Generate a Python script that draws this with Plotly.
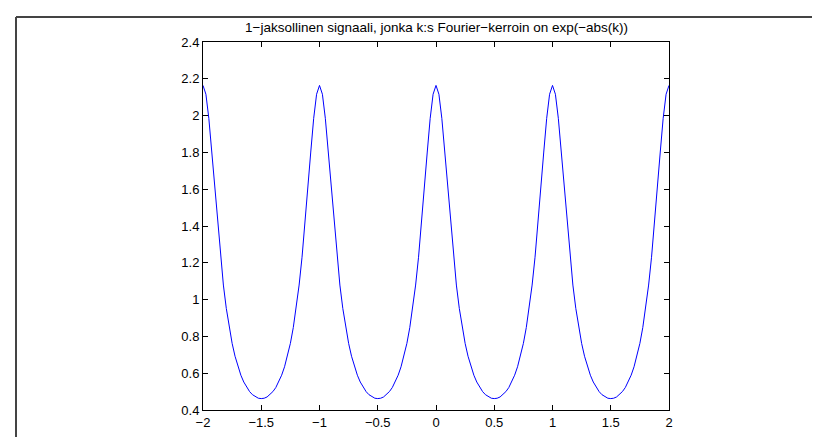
import plotly.graph_objects as go

# sample positions t
x_vals = [
    -2.0, -1.975, -1.95, -1.925, -1.9, -1.875, -1.85, -1.825, -1.8, -1.775,
    -1.75, -1.725, -1.7, -1.675, -1.65, -1.625, -1.6, -1.575, -1.55, -1.525,
    -1.5, -1.475, -1.45, -1.425, -1.4, -1.375, -1.35, -1.325, -1.3, -1.275,
    -1.25, -1.225, -1.2, -1.175, -1.15, -1.125, -1.1, -1.075, -1.05, -1.025,
    -1.0, -0.975, -0.95, -0.925, -0.9, -0.875, -0.85, -0.825, -0.8, -0.775,
    -0.75, -0.725, -0.7, -0.675, -0.65, -0.625, -0.6, -0.575, -0.55, -0.525,
    -0.5, -0.475, -0.45, -0.425, -0.4, -0.375, -0.35, -0.325, -0.3, -0.275,
    -0.25, -0.225, -0.2, -0.175, -0.15, -0.125, -0.1, -0.075, -0.05, -0.025,
    0.0, 0.025, 0.05, 0.075, 0.1, 0.125, 0.15, 0.175, 0.2, 0.225,
    0.25, 0.275, 0.3, 0.325, 0.35, 0.375, 0.4, 0.425, 0.45, 0.475,
    0.5, 0.525, 0.55, 0.575, 0.6, 0.625, 0.65, 0.675, 0.7, 0.725,
    0.75, 0.775, 0.8, 0.825, 0.85, 0.875, 0.9, 0.925, 0.95, 0.975,
    1.0, 1.025, 1.05, 1.075, 1.1, 1.125, 1.15, 1.175, 1.2, 1.225,
    1.25, 1.275, 1.3, 1.325, 1.35, 1.375, 1.4, 1.425, 1.45, 1.475,
    1.5, 1.525, 1.55, 1.575, 1.6, 1.625, 1.65, 1.675, 1.7, 1.725,
    1.75, 1.775, 1.8, 1.825, 1.85, 1.875, 1.9, 1.925, 1.95, 1.975,
    2.0,
]

# signal values
y_vals = [
    2.164, 2.116, 1.985, 1.802, 1.601, 1.406, 1.230, 1.079, 0.952, 0.848,
    0.762, 0.692, 0.635, 0.589, 0.552, 0.522, 0.500, 0.483, 0.471, 0.464,
    0.462, 0.464, 0.471, 0.483, 0.500, 0.522, 0.552, 0.589, 0.635, 0.692,
    0.762, 0.848, 0.952, 1.079, 1.230, 1.406, 1.601, 1.802, 1.985, 2.116,
    2.164, 2.116, 1.985, 1.802, 1.601, 1.406, 1.230, 1.079, 0.952, 0.848,
    0.762, 0.692, 0.635, 0.589, 0.552, 0.522, 0.500, 0.483, 0.471, 0.464,
    0.462, 0.464, 0.471, 0.483, 0.500, 0.522, 0.552, 0.589, 0.635, 0.692,
    0.762, 0.848, 0.952, 1.079, 1.230, 1.406, 1.601, 1.802, 1.985, 2.116,
    2.164, 2.116, 1.985, 1.802, 1.601, 1.406, 1.230, 1.079, 0.952, 0.848,
    0.762, 0.692, 0.635, 0.589, 0.552, 0.522, 0.500, 0.483, 0.471, 0.464,
    0.462, 0.464, 0.471, 0.483, 0.500, 0.522, 0.552, 0.589, 0.635, 0.692,
    0.762, 0.848, 0.952, 1.079, 1.230, 1.406, 1.601, 1.802, 1.985, 2.116,
    2.164, 2.116, 1.985, 1.802, 1.601, 1.406, 1.230, 1.079, 0.952, 0.848,
    0.762, 0.692, 0.635, 0.589, 0.552, 0.522, 0.500, 0.483, 0.471, 0.464,
    0.462, 0.464, 0.471, 0.483, 0.500, 0.522, 0.552, 0.589, 0.635, 0.692,
    0.762, 0.848, 0.952, 1.079, 1.230, 1.406, 1.601, 1.802, 1.985, 2.116,
    2.164,
]

x_ticks = [-2, -1.5, -1, -0.5, 0, 0.5, 1, 1.5, 2]
y_ticks = [0.4, 0.6, 0.8, 1.0, 1.2, 1.4, 1.6, 1.8, 2.0, 2.2, 2.4]
y_tick_text = ["0.4", "0.6", "0.8", "1", "1.2", "1.4", "1.6", "1.8", "2", "2.2", "2.4"]
title_text = "1\u2212jaksollinen signaali, jonka k:s Fourier\u2212kerroin on exp(\u2212abs(k))"

W, H = 820, 437
L, R, T, B = 195, 661, 34, 402

def px(xp):
    return (xp - L) / (R - L)

def py(yp):
    return (B - yp) / (B - T)

fig = go.Figure()
fig.add_trace(go.Scatter(x=x_vals, y=y_vals, mode="lines",
                         line=dict(color="#0000ff", width=1), hoverinfo="skip"))

fam = "Liberation Sans, Arial, Helvetica, sans-serif"
font = dict(family=fam, size=13, color="black")

axis_common = dict(showgrid=False, zeroline=False, showline=True, linecolor="black",
                   linewidth=1, mirror="ticks", ticks="inside", ticklen=5,
                   tickcolor="black", tickwidth=1, tickfont=font)

fig.update_xaxes(range=[-2, 2], tickvals=x_ticks, **axis_common)
fig.update_yaxes(range=[0.4, 2.4], tickvals=y_ticks, ticktext=y_tick_text, **axis_common)

fig.add_annotation(text=title_text, xref="paper", yref="paper", x=0.5, y=py(20),
                   xanchor="center", yanchor="middle", showarrow=False,
                   font=dict(family=fam, size=13.5, color="black"))

frame_col = "#444444"
fig.add_shape(type="line", xref="paper", yref="paper", x0=px(8), x1=px(822),
              y0=py(9), y1=py(9), line=dict(color=frame_col, width=2))
fig.add_shape(type="line", xref="paper", yref="paper", x0=px(8), x1=px(8),
              y0=py(9), y1=py(440), line=dict(color=frame_col, width=2))

fig.update_layout(width=W, height=H, margin=dict(l=L, r=W - R, t=T, b=H - B),
                  paper_bgcolor="white", plot_bgcolor="white", showlegend=False)

fig.write_html("out.html")
